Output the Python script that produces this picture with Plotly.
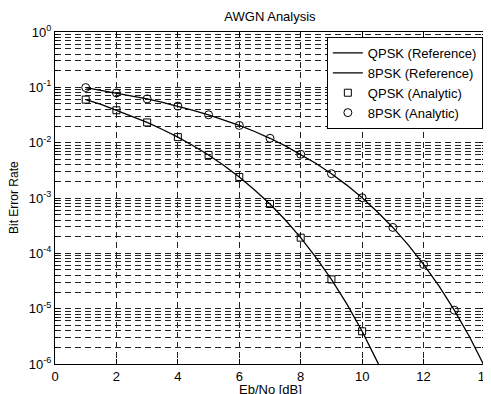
import plotly.graph_objects as go

# Reference curves
qpsk_ref_x = [1.0, 1.5, 2.0, 2.5, 3.0, 3.5, 4.0, 4.5, 5.0, 5.5, 6.0, 6.5, 7.0, 7.5,
              8.0, 8.5, 9.0, 9.5, 10.0, 10.5, 10.6]
qpsk_ref_y = [0.060, 0.049, 0.0385, 0.030, 0.0232, 0.0173, 0.0126, 0.0088, 0.0060,
              0.00387, 0.00240, 0.00140, 7.8e-4, 4.0e-4, 1.92e-4, 8.4e-5, 3.38e-5,
              1.22e-5, 3.9e-6, 1.08e-6, 8.3e-7]

psk8_ref_x = [1.0, 1.5, 2.0, 2.5, 3.0, 3.5, 4.0, 4.5, 5.0, 5.5, 6.0, 6.5, 7.0, 7.5,
              8.0, 8.5, 9.0, 9.5, 10.0, 10.5, 11.0, 11.5, 12.0, 12.5, 13.0, 13.5, 14.0]
psk8_ref_y = [0.099, 0.0884, 0.0793, 0.0705, 0.0619, 0.0536, 0.0458, 0.0385, 0.0319,
              0.0258, 0.0205, 0.0159, 0.0120, 0.00874, 0.00617, 0.00421, 0.00275,
              0.00171, 0.00101, 5.6e-4, 2.94e-4, 1.42e-4, 6.3e-5, 2.57e-5, 9.4e-6,
              3.07e-6, 8.7e-7]

# Analytic points
qpsk_an_x = [1, 2, 3, 4, 5, 6, 7, 8, 9, 10]
qpsk_an_y = [0.060, 0.0385, 0.0232, 0.0126, 0.0060, 0.0024, 7.8e-4, 1.92e-4, 3.38e-5, 3.9e-6]

psk8_an_x = [1, 2, 3, 4, 5, 6, 7, 8, 9, 10, 11, 12, 13]
psk8_an_y = [0.099, 0.0793, 0.0619, 0.0458, 0.0319, 0.0205, 0.0120, 0.00617, 0.00275,
             0.00101, 2.94e-4, 6.3e-5, 9.4e-6]

x_ticks = [0, 2, 4, 6, 8, 10, 12, 14]
y_ticks = [1e0, 1e-1, 1e-2, 1e-3, 1e-4, 1e-5, 1e-6]
y_ticktext = ["10<sup>0</sup>", "10<sup>-1</sup>", "10<sup>-2</sup>", "10<sup>-3</sup>",
              "10<sup>-4</sup>", "10<sup>-5</sup>", "10<sup>-6</sup>"]
y_minor = [m * 10.0 ** e for e in range(-6, 0) for m in range(2, 10)]

FONT = "Liberation Sans, Arial, sans-serif"

# The page body adds an 8px margin, so the figure is 8px smaller than the window.
W, H = 483, 386
ML, MT, MR, MB = 47, 24, 6, 30
PW, PH = W - ML - MR, H - MT - MB

fig = go.Figure()
fig.add_trace(go.Scatter(x=qpsk_ref_x, y=qpsk_ref_y, mode="lines",
                         line=dict(color="black", width=1.3), name="QPSK (Reference)"))
fig.add_trace(go.Scatter(x=psk8_ref_x, y=psk8_ref_y, mode="lines",
                         line=dict(color="black", width=1.3), name="8PSK (Reference)"))
fig.add_trace(go.Scatter(x=qpsk_an_x, y=qpsk_an_y, mode="markers",
                         marker=dict(symbol="square-open", size=7, color="black",
                                     line=dict(width=1)), name="QPSK (Analytic)"))
fig.add_trace(go.Scatter(x=psk8_an_x, y=psk8_an_y, mode="markers",
                         marker=dict(symbol="circle-open", size=8, color="black",
                                     line=dict(width=1)), name="8PSK (Analytic)"))

grid_color = "#222222"
fig.update_xaxes(
    range=[0, 14], tickvals=x_ticks, ticks="inside", ticklen=5, tickcolor="black",
    showline=True, linecolor="black", linewidth=1, mirror="allticks",
    showgrid=True, gridcolor=grid_color, gridwidth=1, griddash="6px,4px",
    zeroline=False, automargin=False, ticklabeloverflow="allow",
    tickfont=dict(size=13, color="black", family=FONT),
)
fig.update_yaxes(
    type="log", range=[-6, 0], tickvals=y_ticks, ticktext=y_ticktext,
    ticks="inside", ticklen=5, tickcolor="black",
    showline=True, linecolor="black", linewidth=1, mirror="allticks",
    showgrid=True, gridcolor=grid_color, gridwidth=1, griddash="6px,4px",
    minor=dict(tickvals=y_minor, ticks="inside", ticklen=3, tickcolor="black",
               showgrid=True, gridcolor=grid_color, gridwidth=1, griddash="6px,4px"),
    zeroline=False, automargin=False,
    tickfont=dict(size=13, color="black", family=FONT),
)

# axis titles as annotations for precise placement
fig.add_annotation(text="Eb/No [dB]", xref="paper", yref="paper", x=0.5,
                   y=-(381 - (MT + PH)) / PH, xanchor="center", yanchor="middle",
                   showarrow=False, font=dict(size=13, color="black", family=FONT))
fig.add_annotation(text="Bit Error Rate", xref="paper", yref="paper",
                   x=(6 - ML) / PW, y=0.5, xanchor="center", yanchor="middle",
                   textangle=-90, showarrow=False,
                   font=dict(size=12, color="black", family=FONT))

fig.update_layout(
    width=W, height=H,
    margin=dict(l=ML, r=MR, t=MT, b=MB),
    paper_bgcolor="white", plot_bgcolor="white",
    font=dict(family=FONT, color="black", size=12),
    title=dict(text="AWGN Analysis", x=0.5, xref="paper", y=1 - 8 / H,
               yref="container", xanchor="center", yanchor="middle",
               font=dict(size=13, color="black", family=FONT)),
    legend=dict(x=0.995, y=0.985, xanchor="right", yanchor="top",
                bgcolor="white", bordercolor="black", borderwidth=1,
                font=dict(size=13, color="black", family=FONT),
                tracegroupgap=0),
    showlegend=True,
)

fig.write_html("out.html")
